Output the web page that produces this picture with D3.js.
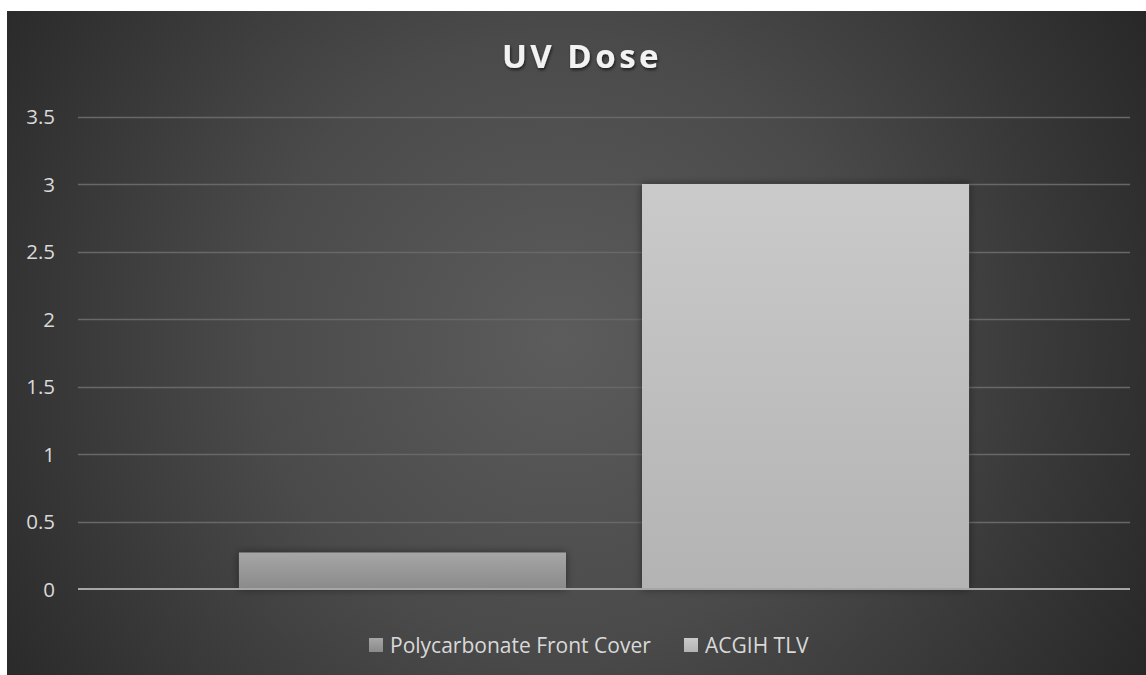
<!DOCTYPE html>
<html><head><meta charset="utf-8">
<script src="https://cdn.jsdelivr.net/npm/d3@7"></script>
<style>body{margin:0;background:#fff;}svg{display:block;}</style>
</head><body>
<svg id="c" width="1146" height="675"></svg>
<script>
const title = "UV Dose";
const categories = [""];
const seriesNames = ["Polycarbonate Front Cover", "ACGIH TLV"];
const seriesValues = [0.27, 3];
const yTicks = [0, 0.5, 1, 1.5, 2, 2.5, 3, 3.5];
const seriesColors = [["#a6a6a6", "#8a8a8a"], ["#cacaca", "#b3b3b3"]];

(function(){
const svg = d3.select("#c");
const W = 1146, H = 675;
const defs = svg.append("defs");
const bg = defs.append("radialGradient").attr("id","bg").attr("gradientUnits","userSpaceOnUse")
  .attr("cx",560).attr("cy",340).attr("r",680);
bg.append("stop").attr("offset","0%").attr("stop-color","#5c5c5c");
bg.append("stop").attr("offset","45%").attr("stop-color","#4a4a4a");
bg.append("stop").attr("offset","100%").attr("stop-color","#272727");
seriesColors.forEach((c,i)=>{
  const g = defs.append("linearGradient").attr("id","g"+i).attr("x1",0).attr("y1",0).attr("x2",0).attr("y2",1);
  g.append("stop").attr("offset","0%").attr("stop-color",c[0]);
  g.append("stop").attr("offset","100%").attr("stop-color",c[1]);
});
const sh = defs.append("filter").attr("id","sh").attr("x","-20%").attr("y","-20%").attr("width","140%").attr("height","140%");
sh.append("feDropShadow").attr("dx",0).attr("dy",0).attr("stdDeviation",4).attr("flood-color","#000").attr("flood-opacity",0.45);
const tsh = defs.append("filter").attr("id","tsh");
tsh.append("feDropShadow").attr("dx",1).attr("dy",2).attr("stdDeviation",1.5).attr("flood-color","#000").attr("flood-opacity",0.6);

svg.append("rect").attr("x",7).attr("y",11).attr("width",W-7).attr("height",H-11).attr("fill","url(#bg)");

const pLeft = 78, pRight = 1130, pTop = 116.5, pBottom = 589;
const y = d3.scaleLinear().domain([0,3.5]).range([pBottom, pTop]);
const x0 = d3.scaleBand().domain(categories).range([pLeft,pRight]).paddingInner(0).paddingOuter(0.2205);
const x1 = d3.scaleBand().domain(seriesNames).range([0, x0.bandwidth()]).paddingInner(0.1886).paddingOuter(0);

svg.append("g").selectAll("line").data(yTicks.filter(d=>d>0)).join("line")
  .attr("x1",pLeft).attr("x2",pRight).attr("y1",d=>Math.round(y(d))+0.5).attr("y2",d=>Math.round(y(d))+0.5)
  .attr("stroke","#686868").attr("stroke-width",1.5);

const yAxis = d3.axisLeft(y).tickValues(yTicks).tickSize(0).tickPadding(0).tickFormat(d3.format("~g"));
const ya = svg.append("g").attr("transform",`translate(${55},0)`).call(yAxis);
ya.select(".domain").remove();
ya.selectAll("text").attr("fill","#d9d9d9").attr("font-family","'Open Sans', sans-serif").attr("font-size",20.5).attr("dy","0.36em");

svg.append("g").selectAll("rect").data(seriesNames).join("rect")
  .attr("x",(d)=>x0(categories[0])+x1(d))
  .attr("width",x1.bandwidth())
  .attr("y",(d,i)=>y(seriesValues[i]))
  .attr("height",(d,i)=>pBottom - y(seriesValues[i]))
  .attr("fill",(d,i)=>`url(#g${i})`)
  .attr("filter","url(#sh)");

svg.append("line").attr("x1",pLeft).attr("x2",pRight).attr("y1",pBottom).attr("y2",pBottom)
  .attr("stroke","#a6a6a6").attr("stroke-width",2.2);

svg.append("text").attr("x",582).attr("y",68).attr("text-anchor","middle")
  .attr("font-family","'Open Sans', sans-serif").attr("font-weight","bold").attr("font-size",33)
  .attr("letter-spacing",3.5).attr("fill","#f2f2f2").attr("filter","url(#tsh)").text(title);

const legendX = [369, 684];
const lg = svg.append("g").selectAll("g").data(seriesNames).join("g")
  .attr("transform",(d,i)=>`translate(${legendX[i]},638)`);
lg.append("rect").attr("width",14).attr("height",14).attr("fill",(d,i)=>`url(#g${i})`);
lg.append("text").attr("x",21).attr("y",15)
  .attr("font-family","'Open Sans', sans-serif").attr("font-size",21).attr("fill","#d9d9d9").text(d=>d);
})();
</script>
</body></html>
